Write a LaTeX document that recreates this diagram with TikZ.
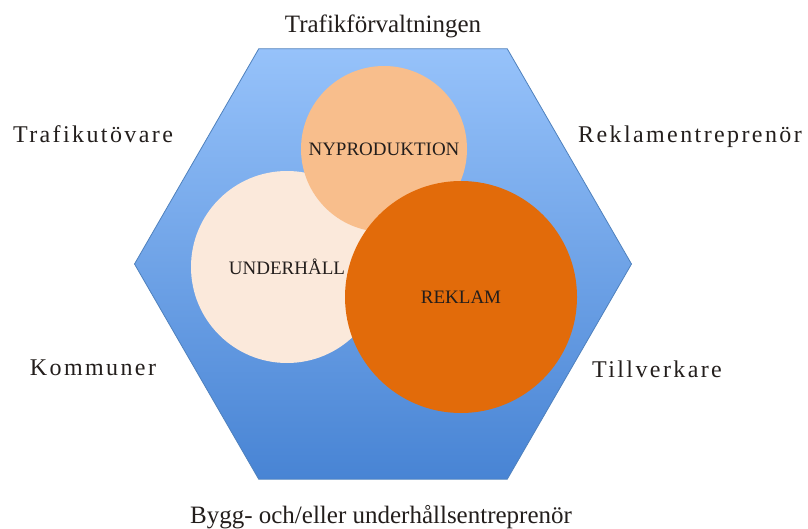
\documentclass[tikz,border=0pt]{standalone}
\usepackage{fontspec}
\setmainfont{Liberation Serif}
\usetikzlibrary{shapes.geometric}

\definecolor{hextop}{RGB}{150,194,250}
\definecolor{hexbot}{RGB}{72,132,212}
\definecolor{hexline}{RGB}{79,129,189}
\definecolor{nyfill}{RGB}{248,190,140}
\definecolor{unfill}{RGB}{251,233,219}
\definecolor{refill}{RGB}{226,107,10}
\definecolor{labtext}{RGB}{35,30,28}

\begin{document}
\begin{tikzpicture}[x=1pt,y=-1pt]
        \useasboundingbox (0,0) rectangle (808,529);

        \node (hex) [regular polygon, regular polygon sides=6, minimum size=497pt,
          inner sep=0pt, outer sep=0pt, draw=hexline, line width=0.8pt,
          top color=hextop, bottom color=hexbot] at (383,264) {};

        \begin{scope}[every node/.style={circle, inner sep=0pt, text=labtext,
            font=\fontsize{19}{22}\selectfont}]
          \node (und) [fill=unfill, minimum size=192pt] at (287,267) {UNDERHÅLL};
          \node (nyp) [fill=nyfill, minimum size=166pt] at (384,149) {NYPRODUKTION};
          \node (rek) [fill=refill, minimum size=232pt] at (461,297) {REKLAM};
        \end{scope}

        \begin{scope}[every node/.style={anchor=base, text=labtext, inner sep=0pt,
            font=\fontsize{25}{28}\selectfont}]
          \node (forv) at (383,33)  {Trafikförvaltningen};
          \node (bygg) at (381,523) {Bygg- och/eller underhållsentreprenör};
        \end{scope}

        \begin{scope}[every node/.style={anchor=base, text=labtext, inner sep=0pt,
            font=\fontsize{24}{28}\selectfont\addfontfeature{LetterSpace=10}}]
          \node (utov)   at (93,143)  {Trafikutövare};
          \node (rekent) at (690,143) {Reklamentreprenör};
          \node (komm)   at (93,375)  {Kommuner};
          \node (tillv)  at (657,377) {Tillverkare};
        \end{scope}

      \end{tikzpicture}
\end{document}
